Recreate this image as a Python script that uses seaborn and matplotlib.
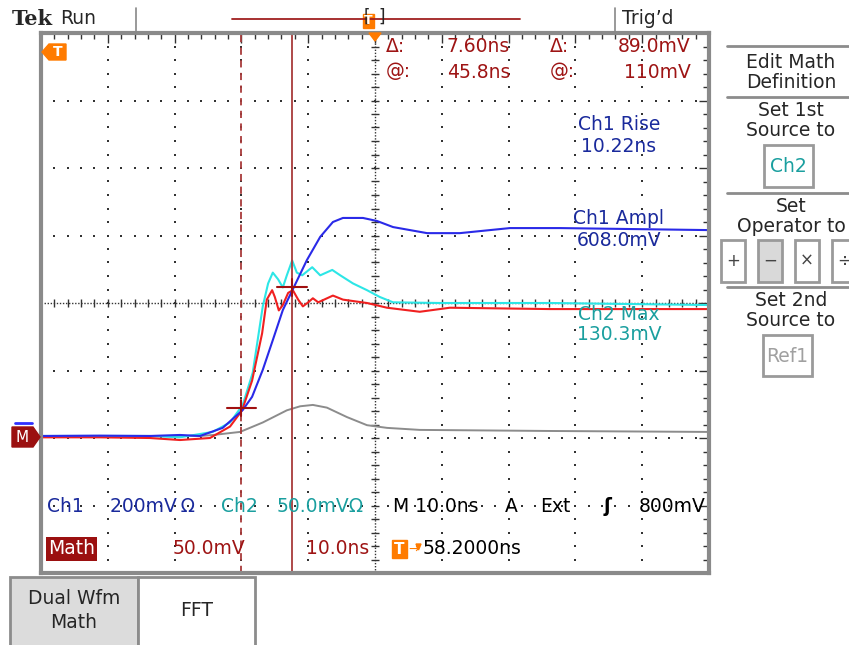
import numpy as np
import matplotlib
matplotlib.use("Agg")
import matplotlib.pyplot as plt
from matplotlib.patches import Rectangle, Polygon
import seaborn as sns

# waveforms: time (ns), level (mV)
ch1_t = [8.2, 17.0, 24.5, 29.0, 32.0, 35.4, 38.4, 39.8, 41.4, 42.9, 44.4, 46.2, 48.0,
         50.0, 51.9, 53.4, 56.4, 58.5, 60.9, 66.0, 70.9, 78.4, 85.9, 108.2]
ch1_mv = [0, 1, 0, 3, 0, 24, 77, 116, 196, 284, 373, 447, 521,
          590, 634, 646, 646, 637, 619, 601, 601, 616, 616, 610]

ch2_t = [8.2, 17.0, 24.5, 29.0, 33.9, 36.5, 38.4, 39.9, 41.4, 42.2, 42.9, 43.7, 44.4,
         45.0, 45.8, 46.5, 47.3, 48.8, 50.0, 51.8, 53.0, 54.9, 57.0, 58.9, 60.9,
         67.9, 84.4, 108.2]
ch2_mv = [0, 0, 0, -1, 3, 10, 23, 47, 96, 113, 121, 116, 110,
          119, 130, 121, 119, 125, 119, 123, 119, 113, 108, 103, 99,
          98.5, 98.5, 97]

math_t = [8.2, 17.0, 24.5, 29.0, 33.5, 36.5, 38.3, 39.8, 41.3, 42.0, 42.8, 43.2, 43.8,
          44.4, 45.2, 45.9, 46.7, 47.4, 48.2, 48.9, 49.7, 51.9, 53.4, 57.0, 60.0,
          64.9, 69.4, 84.4, 108.2]
math_mv = [-1, -1, -1.5, -3, -1.5, 7, 19, 41, 76, 101, 108, 103, 93,
           97, 106, 108, 101, 96, 99, 102, 99, 104, 101, 98.5, 95,
           92, 95, 94, 94]

ref_t = [8.2, 32.0, 33.9, 38.0, 41.4, 45.0, 47.0, 48.9, 51.0, 54.0, 57.0, 60.0,
         64.9, 84.4, 108.2]
ref_mv = [0, 0, 0.7, 3, 10, 19, 22, 23, 21, 14, 8, 6, 4.5, 3.7, 3]

# vertical scales (mV/div)
ch1_scale = 200.0
ch2_scale = 50.0
math_scale = 50.0
ref_scale = 50.0

# cursors (math): time ns, level mV
cursor_t = [38.2, 45.8]
cursor_mv = [21.0, 110.0]

t_left = 8.2
ns_div = 10.0
ground = 2.03  # divisions above graticule bottom

W, H = 849, 645
sns.set_style("white")
plt.rcParams["font.family"] = ["DejaVu Sans"]

fig = plt.figure(figsize=(W / 100, H / 100), dpi=100)

# graticule
ax = fig.add_axes([41 / W, (H - 573) / H, 668 / W, 540 / H])
ax.set_xlim(t_left, t_left + 10 * ns_div)
ax.set_ylim(0, 8)
ax.set_xticks([t_left + ns_div * k for k in range(11)])
ax.set_xticks([t_left + 2 * k for k in range(51)], minor=True)
ax.set_yticks(range(9))
ax.set_yticks([k / 5 for k in range(41)], minor=True)
ax.tick_params(which="both", direction="in", top=True, right=True,
               labelbottom=False, labelleft=False, color="#333333", width=1)
ax.tick_params(which="major", length=7)
ax.tick_params(which="minor", length=4)
for s in ax.spines.values():
    s.set_color("#8a8a8a")
    s.set_linewidth(3)

gx = t_left + ns_div * np.arange(1, 10)
gy = np.arange(1, 8)
dots_y = np.arange(0, 8.01, 0.2)
dots_x = t_left + np.arange(0, 100.01, 2)
for x in gx:
    if abs(x - (t_left + 5 * ns_div)) > 1e-6:
        ax.scatter(np.full_like(dots_y, x), dots_y, s=1.5, marker="s", color="#333333", lw=0)
for y in gy:
    if y != 4:
        ax.scatter(dots_x, np.full_like(dots_x, y), s=1.5, marker="s", color="#333333", lw=0)
xc = t_left + 5 * ns_div
ax.axvline(xc, color="#333333", lw=1, ls=(0, (1, 1.2)))
ax.axhline(4, color="#333333", lw=1, ls=(0, (1, 1.2)))
ax.plot(dots_x, np.full_like(dots_x, 4), ls="none", marker="|", ms=6, color="#333333", mew=1)
ax.plot(np.full_like(dots_y, xc), dots_y, ls="none", marker="_", ms=6, color="#333333", mew=1)

# traces
sns.lineplot(x=ref_t, y=ground + np.array(ref_mv) / ref_scale, color="#8c8c8c", lw=1.4, ax=ax, sort=False)
sns.lineplot(x=ch2_t, y=ground + np.array(ch2_mv) / ch2_scale, color="#2de6e6", lw=1.5, ax=ax, sort=False)
sns.lineplot(x=math_t, y=ground + np.array(math_mv) / math_scale, color="#f02020", lw=1.5, ax=ax, sort=False)
sns.lineplot(x=ch1_t, y=ground + np.array(ch1_mv) / ch1_scale, color="#2a2ae8", lw=1.5, ax=ax, sort=False)

# cursors
cur_col = "#a83a3a"
ax.axvline(cursor_t[0], color=cur_col, lw=1.3, ls=(0, (4, 3)))
ax.axvline(cursor_t[1], color=cur_col, lw=1.3)
for ct, cv in zip(cursor_t, cursor_mv):
    yy = ground + cv / math_scale
    ax.plot([ct - 2.2, ct + 2.2], [yy, yy], color="#a01010", lw=1.5)
    ax.plot([ct, ct], [yy - 0.12, yy + 0.12], color="#a01010", lw=1.5)

# screen chrome in pixel coordinates
ov = fig.add_axes([0, 0, 1, 1], zorder=5)
ov.set_xlim(0, W)
ov.set_ylim(H, 0)
ov.axis("off")
ov.patch.set_alpha(0)

fs = 13.5
blue_t = "#1a2a9c"
teal_t = "#1a9f9f"
red_t = "#9e1414"
orange = "#ff7b00"

# top bar
ov.text(12, 19, "Tek", fontsize=15, fontweight="bold", family="DejaVu Serif", va="center")
ov.text(60, 18, "Run", fontsize=fs, va="center")
ov.plot([136, 136], [8, 33], color="#888888", lw=1.2)
ov.plot([232, 520], [19, 19], color="#a02020", lw=1.3)
ov.text(367, 17, "[", fontsize=12, va="center", ha="center")
ov.text(382, 17, "]", fontsize=12, va="center", ha="center")
ov.add_patch(Rectangle((363, 14), 11, 14, color=orange))
ov.text(368.5, 21, "T", fontsize=9, color="white", fontweight="bold", ha="center", va="center")
ov.plot([615, 615], [8, 33], color="#888888", lw=1.2)
ov.text(622, 18, "Trig\u2019d", fontsize=fs, va="center")

# trigger markers
ov.add_patch(Polygon([[369, 33], [381, 33], [375, 41]], color=orange))
ov.add_patch(Polygon([[42, 52], [49, 44], [66, 44], [66, 60], [49, 60]], color=orange))
ov.text(57.5, 52.5, "T", fontsize=10, color="white", fontweight="bold", ha="center", va="center")
ov.add_patch(Polygon([[12, 427], [33, 427], [40, 437], [33, 447], [12, 447]], color="#9b1010"))
ov.plot([15, 32], [423, 423], color="#3030ff", lw=2)
ov.text(22, 437.5, "M", fontsize=11, color="white", ha="center", va="center")

# cursor readout
ov.text(386, 47, "\u0394:", fontsize=fs, color=red_t, va="center")
ov.text(510, 47, "7.60ns", fontsize=fs, color=red_t, va="center", ha="right")
ov.text(550, 47, "\u0394:", fontsize=fs, color=red_t, va="center")
ov.text(691, 47, "89.0mV", fontsize=fs, color=red_t, va="center", ha="right")
ov.text(386, 72, "@:", fontsize=fs, color=red_t, va="center")
ov.text(510, 72, "45.8ns", fontsize=fs, color=red_t, va="center", ha="right")
ov.text(550, 72, "@:", fontsize=fs, color=red_t, va="center")
ov.text(691, 72, "110mV", fontsize=fs, color=red_t, va="center", ha="right")

# measurements
for txt, y, c in [("Ch1 Rise", 125, blue_t), ("10.22ns", 146, blue_t),
                  ("Ch1 Ampl", 219, blue_t), ("608.0mV", 240, blue_t),
                  ("Ch2 Max", 314, teal_t), ("130.3mV", 335, teal_t)]:
    ov.text(619, y, txt, fontsize=fs, color=c, va="center", ha="center")

# channel readouts
ov.text(47, 507, "Ch1", fontsize=fs, color=blue_t, va="center")
ov.text(110, 507, "200mV\u2009\u03a9", fontsize=fs, color=blue_t, va="center")
ov.text(221, 507, "Ch2", fontsize=fs, color=teal_t, va="center")
ov.text(277, 507, "50.0mV\u03a9", fontsize=fs, color=teal_t, va="center")
ov.text(393, 507, "M 10.0ns", fontsize=fs, color="black", va="center")
ov.text(505, 507, "A", fontsize=fs, color="black", va="center")
ov.text(540, 507, "Ext", fontsize=fs, color="black", va="center")
ov.text(604, 507, "\u0283", fontsize=fs, color="black", va="center", fontweight="bold")
ov.text(706, 507, "800mV", fontsize=fs, color="black", va="center", ha="right")

ov.text(48, 549, "Math", fontsize=fs, color="white", va="center",
        bbox=dict(boxstyle="square,pad=0.12", fc="#9b1010", ec="none"))
ov.text(173, 549, "50.0mV", fontsize=fs, color=red_t, va="center")
ov.text(306, 549, "10.0ns", fontsize=fs, color=red_t, va="center")
ov.add_patch(Rectangle((392, 540), 15, 18, color=orange))
ov.text(399.5, 549, "T", fontsize=11, color="white", fontweight="bold", ha="center", va="center")
ov.text(408, 549, "\u2192", fontsize=9, color=orange, va="center")
ov.add_patch(Polygon([[407 + 9, 544], [421, 544], [418.5, 550]], color=orange))
ov.text(423, 549, "58.2000ns", fontsize=fs, color="black", va="center")

# side menu
for y in [46, 97, 193, 287]:
    ov.plot([727, 849], [y, y], color="#8c8c8c", lw=2)
menu = [("Edit Math", 62), ("Definition", 82), ("Set 1st", 111), ("Source to", 131),
        ("Set", 206), ("Operator to", 226), ("Set 2nd", 300), ("Source to", 321)]
for txt, y in menu:
    ov.text(791, y, txt, fontsize=fs, va="center", ha="center")
ov.add_patch(Rectangle((764, 145), 49, 42, fill=False, ec="#9a9a9a", lw=2))
ov.text(788.5, 166, "Ch2", fontsize=fs, color=teal_t, va="center", ha="center")
ov.add_patch(Rectangle((763, 335), 49, 41, fill=False, ec="#9a9a9a", lw=2))
ov.text(787.5, 356, "Ref1", fontsize=fs, color="#a0a0a0", va="center", ha="center")
for x0, sym, fill in [(721, "+", "white"), (758, "\u2212", "#d9d9d9"),
                      (795, "\u00d7", "white"), (832, "\u00f7", "white")]:
    ov.add_patch(Rectangle((x0, 240), 24, 42, fc=fill, ec="#9a9a9a", lw=2))
    ov.text(x0 + 12, 261, sym, fontsize=12, color="#444444", va="center", ha="center")

# bottom menu
ov.add_patch(Rectangle((10, 577), 128, 75, fc="#dcdcdc", ec="#8c8c8c", lw=2))
ov.text(74, 598, "Dual Wfm", fontsize=fs, va="center", ha="center")
ov.text(74, 622, "Math", fontsize=fs, va="center", ha="center")
ov.add_patch(Rectangle((138, 577), 117, 75, fc="white", ec="#8c8c8c", lw=2))
ov.text(196.5, 611, "FFT", fontsize=fs, va="center", ha="center")

fig.savefig("out.png", dpi=100)
